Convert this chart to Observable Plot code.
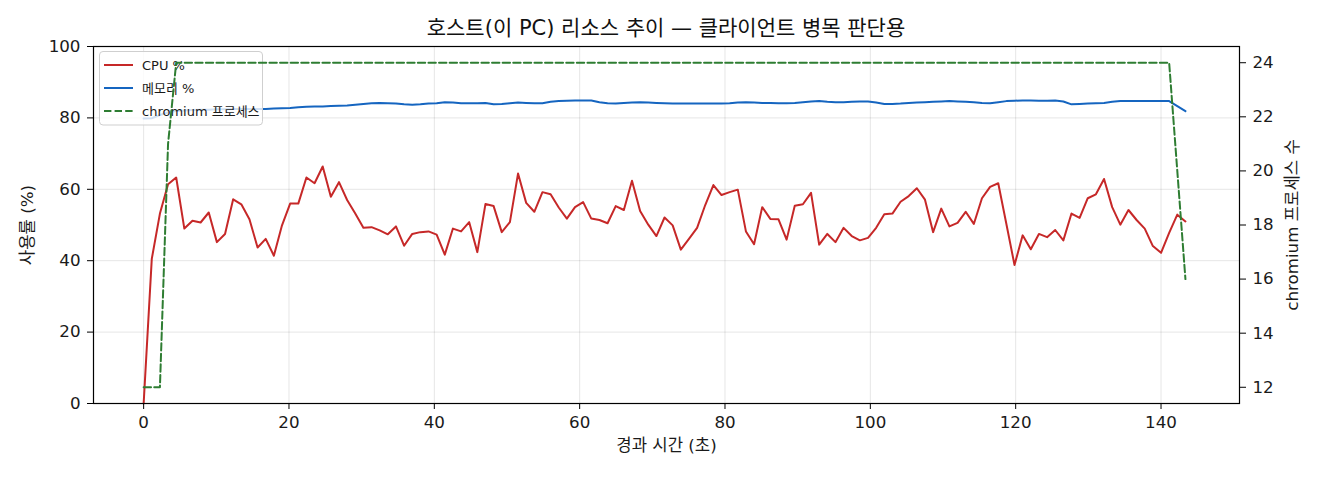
<!DOCTYPE html>
<html><head><meta charset="utf-8">
<script src="https://cdn.jsdelivr.net/npm/d3@7"></script>
<script src="https://cdn.jsdelivr.net/npm/@observablehq/plot@0.6"></script>
<style>
body{margin:0;background:#fff;}
#wrap{position:relative;width:1320px;height:480px;overflow:hidden;}
#wrap svg{position:absolute;left:0;top:0;}
#title{position:absolute;left:93px;width:1146px;top:15px;text-align:center;font-size:21px;font-family:"DejaVu Sans","Noto Sans CJK KR",sans-serif;color:#111;line-height:26px;white-space:nowrap;}
</style></head><body>
<div id="wrap"><div id="title"></div></div>
<script>
const titleText = "호스트(이 PC) 리소스 추이 — 클라이언트 병목 판단용";
const xLabel = "경과 시간 (초)";
const yLabel = "사용률 (%)";
const y2Label = "chromium 프로세스 수";
const seriesNames = ["CPU %", "메모리 %", "chromium 프로세스"];
const seriesColors = ["#c62828", "#1565c0", "#2e7d32"];
const xTicks = [0, 20, 40, 60, 80, 100, 120, 140];
const yTicks = [0, 20, 40, 60, 80, 100];
const y2Ticks = [12, 14, 16, 18, 20, 22, 24];

const times = [0,1.12,2.24,3.36,4.48,5.6,6.72,7.84,8.96,10.08,
 11.2,12.32,13.44,14.56,15.68,16.8,17.92,19.04,20.16,21.28,
 22.4,23.52,24.64,25.76,26.88,28,29.12,30.24,31.36,32.48,
 33.6,34.72,35.84,36.96,38.08,39.2,40.32,41.44,42.56,43.68,
 44.8,45.92,47.04,48.16,49.28,50.4,51.52,52.64,53.76,54.88,
 56,57.12,58.24,59.36,60.48,61.6,62.72,63.84,64.96,66.08,
 67.2,68.32,69.44,70.56,71.68,72.8,73.92,75.04,76.16,77.28,
 78.4,79.52,80.64,81.76,82.88,84,85.12,86.24,87.36,88.48,
 89.6,90.72,91.84,92.96,94.08,95.2,96.32,97.44,98.56,99.68,
 100.8,101.92,103.04,104.16,105.28,106.4,107.52,108.64,109.76,110.88,
 112,113.12,114.24,115.36,116.48,117.6,118.72,119.84,120.96,122.08,
 123.2,124.32,125.44,126.56,127.68,128.8,129.92,131.04,132.16,133.28,
 134.4,135.52,136.64,137.76,138.88,140,141.12,142.24,143.36];

const cpu = [0,40.5,53.2,61.4,63.3,49.0,51.2,50.7,53.5,45.2,
 47.5,57.2,55.8,51.6,43.7,46.1,41.4,49.9,56.0,56.0,
 63.3,61.7,66.4,57.9,62.0,57.0,53.2,49.2,49.4,48.5,
 47.4,49.6,44.2,47.5,48.0,48.2,47.3,41.7,49.0,48.2,
 50.8,42.4,55.9,55.3,48.0,50.8,64.4,56.2,53.7,59.2,
 58.6,54.9,51.8,55.0,56.4,51.8,51.4,50.5,55.3,54.2,
 62.4,53.9,50.1,46.9,52.1,49.9,43.1,46.1,49.2,55.6,
 61.2,58.4,59.2,59.9,48.2,44.6,55.0,51.7,51.6,45.9,
 55.4,55.8,59.0,44.5,47.5,45.2,49.2,46.9,45.7,46.4,
 49.2,53.0,53.2,56.5,58.1,60.3,57.1,48.0,54.6,49.6,
 50.6,53.7,50.3,57.5,60.7,61.7,50.3,38.8,47.1,43.2,
 47.5,46.6,48.6,45.7,53.2,52.0,57.5,58.6,62.9,55.0,
 50.1,54.2,51.4,49.0,44.1,42.2,47.8,52.9,51.0];

const mem = [79.8,79.9,80.8,81.5,81.9,82.1,82.2,82.3,82.3,82.4,
 82.4,82.5,82.5,82.5,82.5,82.5,82.6,82.7,82.8,83.0,
 83.1,83.2,83.2,83.3,83.4,83.5,83.7,83.9,84.1,84.2,
 84.1,84.0,83.8,83.7,83.8,84.0,84.1,84.4,84.3,84.1,
 84.1,84.1,84.2,83.8,83.9,84.1,84.3,84.2,84.1,84.1,
 84.5,84.7,84.8,84.9,84.9,84.9,84.4,84.1,84.0,84.2,
 84.3,84.4,84.3,84.2,84.1,84.0,84.0,84.0,84.0,84.0,
 84.0,84.0,84.1,84.3,84.4,84.3,84.2,84.2,84.1,84.1,
 84.2,84.4,84.6,84.7,84.5,84.4,84.4,84.5,84.6,84.6,
 84.3,83.9,83.9,84.0,84.2,84.3,84.4,84.5,84.6,84.7,
 84.6,84.5,84.4,84.2,84.1,84.4,84.7,84.8,84.9,84.9,
 84.8,84.8,84.9,84.6,83.8,83.9,84.0,84.1,84.2,84.5,
 84.7,84.7,84.7,84.7,84.7,84.7,84.7,83.3,81.9];

const procs = [12,12,12,21,
 24,24,24,24,24,24,24,24,24,24,
 24,24,24,24,24,24,24,24,24,24,
 24,24,24,24,24,24,24,24,24,24,
 24,24,24,24,24,24,24,24,24,24,
 24,24,24,24,24,24,24,24,24,24,
 24,24,24,24,24,24,24,24,24,24,
 24,24,24,24,24,24,24,24,24,24,
 24,24,24,24,24,24,24,24,24,24,
 24,24,24,24,24,24,24,24,24,24,
 24,24,24,24,24,24,24,24,24,24,
 24,24,24,24,24,24,24,24,24,24,
 24,24,24,24,24,24,24,24,24,24,
 24,24,24,
 20,16];

const FONT = '"DejaVu Sans","Noto Sans CJK KR",sans-serif';
const rows = times.map((t, i) => ({t, cpu: cpu[i], mem: mem[i], n: procs[i]}));
const W = 1320, H = 480;
const M = {marginTop: 46, marginBottom: 77, marginLeft: 93, marginRight: 81};
const xDomain = [-6.9, 150.8];

document.getElementById("title").textContent = titleText;

const p1 = Plot.plot({
  width: W, height: H, ...M,
  style: {fontFamily: FONT, fontSize: "16.7px", color: "#1a1a1a", background: "transparent", overflow: "visible"},
  x: {domain: xDomain},
  y: {domain: [0, 100]},
  marks: [
    Plot.gridX(xTicks, {stroke: "#000", strokeOpacity: 0.1, strokeWidth: 1}),
    Plot.gridY(yTicks, {stroke: "#000", strokeOpacity: 0.1, strokeWidth: 1}),
    Plot.line(rows, {x: "t", y: "cpu", stroke: seriesColors[0], strokeWidth: 2}),
    Plot.line(rows, {x: "t", y: "mem", stroke: seriesColors[1], strokeWidth: 2}),
    Plot.frame({stroke: "#000", strokeWidth: 1.2}),
    Plot.axisX(xTicks, {tickSize: 6, tickPadding: 7, label: null, stroke: "#000"}),
    Plot.axisY(yTicks, {tickSize: 6, tickPadding: 7, label: null, stroke: "#000"}),
    Plot.text([xLabel], {frameAnchor: "bottom", dy: 47, text: d => d, fontSize: 16.7, fill: "#1a1a1a", textAnchor: "middle"}),
    Plot.text([yLabel], {frameAnchor: "left", dx: -66, rotate: -90, text: d => d, fontSize: 16.7, fill: "#1a1a1a", textAnchor: "middle"})
  ]
});

const p2 = Plot.plot({
  width: W, height: H, ...M,
  style: {fontFamily: FONT, fontSize: "16.7px", color: "#1a1a1a", background: "transparent", overflow: "visible"},
  x: {domain: xDomain, axis: null},
  y: {domain: [11.4, 24.6]},
  marks: [
    Plot.line(rows, {x: "t", y: "n", stroke: seriesColors[2], strokeWidth: 2, strokeDasharray: "7.4,3.2"}),
    Plot.axisY(y2Ticks, {anchor: "right", tickSize: 6, tickPadding: 7, label: null, stroke: "#000"}),
    Plot.text([y2Label], {frameAnchor: "right", dx: 53, rotate: -90, text: d => d, fontSize: 16.7, fill: "#1a1a1a", textAnchor: "middle"})
  ]
});

// legend (drawn beneath the twin-axis line, above the primary lines)
const lg = d3.create("svg:g").attr("font-family", FONT).attr("font-size", 13).attr("text-anchor", "start");
lg.append("rect").attr("x", 99.5).attr("y", 51.5).attr("width", 163).attr("height", 73.5)
  .attr("rx", 3.5).attr("fill", "#fff").attr("fill-opacity", 0.8).attr("stroke", "#cfcfcf").attr("stroke-width", 1);
seriesNames.forEach((name, k) => {
  const yy = 65 + k * 23;
  lg.append("line").attr("x1", 104).attr("x2", 133).attr("y1", yy).attr("y2", yy)
    .attr("stroke", seriesColors[k]).attr("stroke-width", 2)
    .attr("stroke-dasharray", k === 2 ? "7.4,3.2" : null);
  lg.append("text").attr("x", 142).attr("y", yy).attr("dy", "0.36em").attr("fill", "#1a1a1a")
    .attr("text-anchor", "start").text(name);
});
p2.insertBefore(lg.node(), p2.firstChild);

const wrap = document.getElementById("wrap");
wrap.appendChild(p1);
wrap.appendChild(p2);
</script>
</body></html>
